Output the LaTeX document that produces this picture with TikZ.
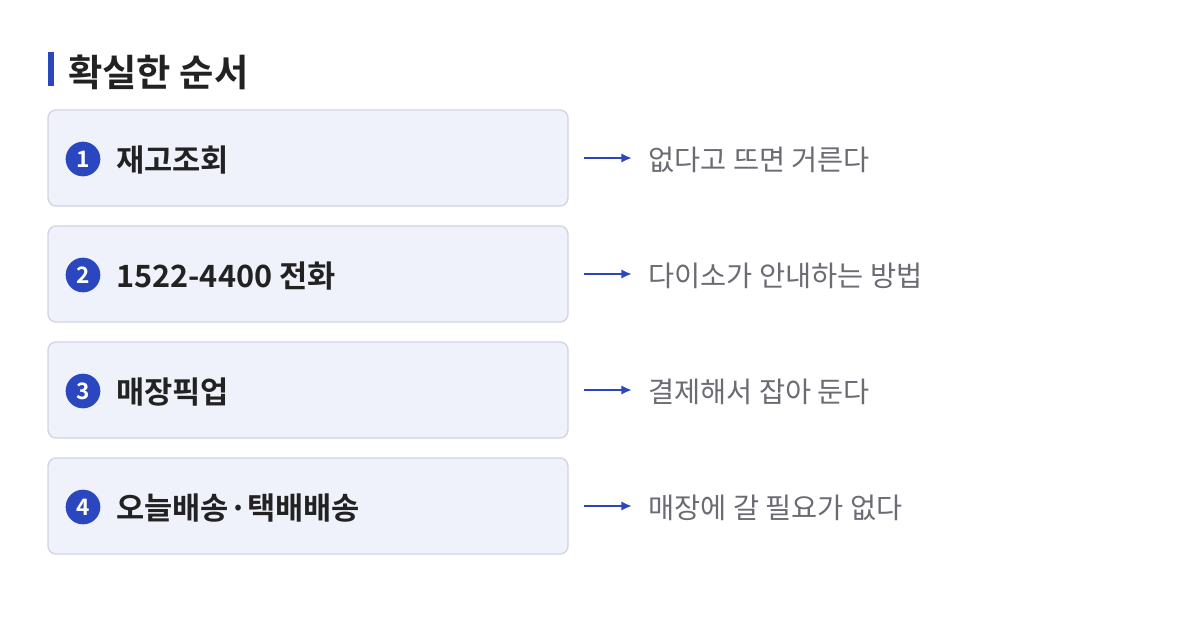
\documentclass[tikz,border=0pt]{standalone}
\usepackage{fontspec}
\setmainfont{Noto Sans CJK KR}[BoldFont={Noto Sans CJK KR Bold}]
\usetikzlibrary{positioning}
\definecolor{stepblue}{HTML}{2B47C0}
\definecolor{boxfill}{HTML}{EFF2FB}
\definecolor{boxline}{HTML}{D0D4E4}
\definecolor{notegray}{HTML}{6B6B73}
\definecolor{labeldark}{HTML}{222222}
\tikzset{
  stepbox/.style={draw=boxline, fill=boxfill, rounded corners=6pt, line width=1pt},
  stepnum/.style={circle, fill=stepblue, text=white, inner sep=0pt, minimum size=26pt, font=\bfseries\fontsize{17}{17}\selectfont},
  steplabel/.style={anchor=west, text=labeldark, inner sep=0pt, font=\bfseries\fontsize{23}{23}\selectfont},
  stepnote/.style={anchor=west, text=notegray, inner sep=0pt, font=\fontsize{21.3}{21.3}\selectfont},
  steparrow/.style={-{Latex[length=8pt,width=7pt]}, stepblue, line width=1.6pt}
}
\usetikzlibrary{arrows.meta}
\begin{document}
\begin{tikzpicture}[x=0.75pt,y=-0.75pt]
   % Border.
   \useasboundingbox (0,0) rectangle (1200,622);
   \fill[white] (0,0) rectangle (1200,622);
   % Title.
   \fill[stepblue] (48,52) rectangle (54,86);
   \node[anchor=west, inner sep=0pt, text=labeldark, font=\bfseries\fontsize{28}{28}\selectfont] (title) at (68,72) {확실한 순서};
   % Steps.
   \foreach \i/\lbl/\note in {1/재고조회/없다고 뜨면 거른다,
                              2/1522-4400 전화/다이소가 안내하는 방법,
                              3/매장픽업/결제해서 잡아 둔다,
                              4/오늘배송·택배배송/매장에 갈 필요가 없다}
   {
     \pgfmathsetmacro{\yc}{158+116*(\i-1)}
     \draw[stepbox] (48,\yc-48) rectangle (568,\yc+48);
     \node[stepnum] (num\i) at (83,\yc+1) {\i};
     \node[steplabel] (label\i) at (116,\yc+2) {\lbl};
     \coordinate (from\i) at (584,\yc);
     \coordinate (to\i) at (632,\yc);
     \draw[steparrow] (from\i) -- (to\i);
     \node[stepnote] (note\i) at (648,\yc+2) {\note};
   }
\end{tikzpicture}
\end{document}
